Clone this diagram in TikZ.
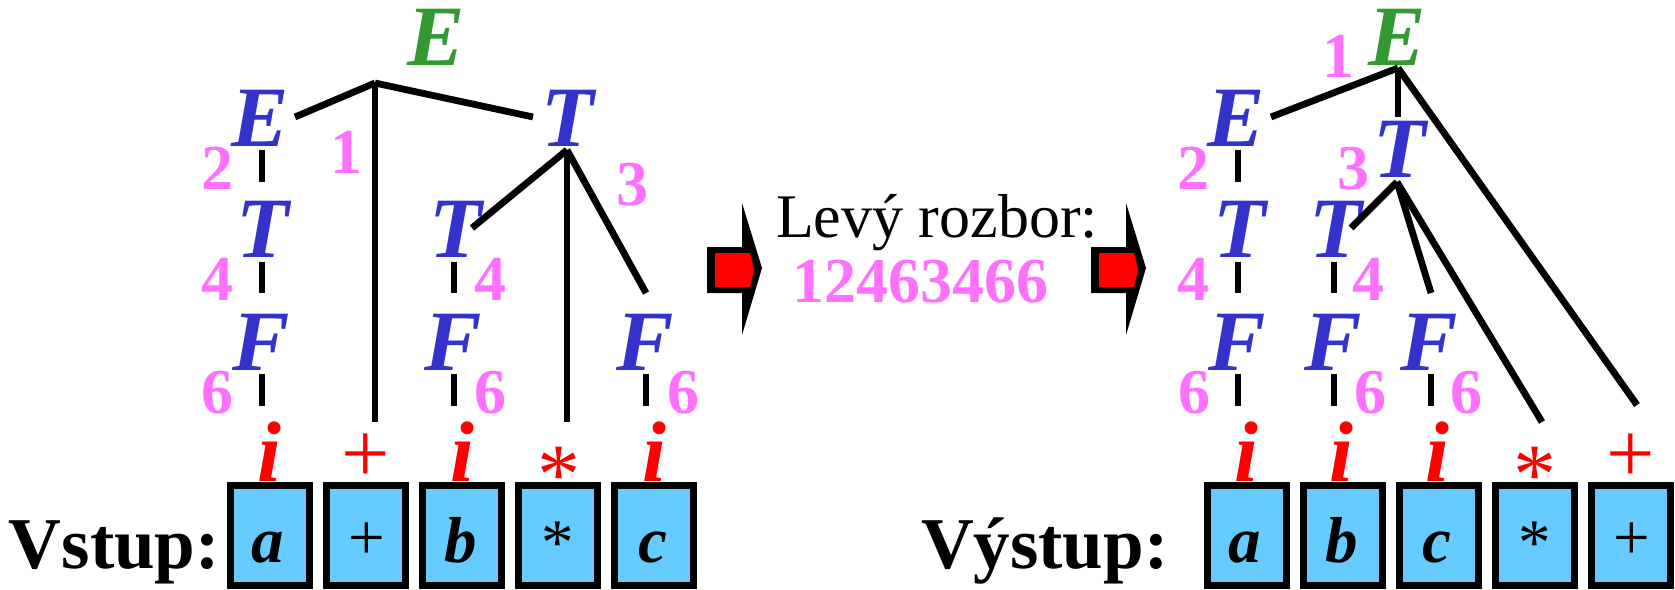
\documentclass[tikz,border=0pt]{standalone}
\usepackage{fontspec}
\setmainfont{Liberation Serif}
\definecolor{tblue}{HTML}{3333CC}
\definecolor{tgreen}{HTML}{339933}
\definecolor{tpink}{HTML}{FF70FF}
\definecolor{cellblue}{HTML}{66CCFF}
\tikzset{
  sym/.style={font=\fontsize{86}{86}\selectfont\bfseries\itshape, text=tblue, anchor=base},
  rootsym/.style={sym, text=tgreen},
  num/.style={font=\fontsize{64}{64}\selectfont\bfseries, text=tpink, anchor=base},
  term/.style={font=\fontsize{86}{86}\selectfont\bfseries\itshape, text=red, anchor=base},
  termop/.style={font=\fontsize{86}{86}\selectfont, text=red, anchor=base},
  cell/.style={draw=black, line width=7pt, fill=cellblue, minimum width=79pt, minimum height=100pt},
  celltxt/.style={font=\fontsize{65}{65}\selectfont\bfseries\itshape, anchor=base},
  cellop/.style={font=\fontsize{65}{65}\selectfont, anchor=base},
  branch/.style={line width=6.8pt},
  biglabel/.style={font=\fontsize{73}{73}\selectfont\bfseries, anchor=base west},
  pics/blockarrow/.style={code={
    \fill[black] (0,0) -- (35,0) -- (35,-44) -- (55,21) -- (35,88) -- (35,46) -- (0,46) -- cycle;
    \fill[red] (8,6) -- (43,6) -- (47,23) -- (43,40) -- (8,40) -- cycle;
  }}
}
\begin{document}
\begin{tikzpicture}[x=1pt,y=-1pt, every node/.style={inner sep=0pt, outer sep=0pt}]
\useasboundingbox (0,0) rectangle (1675,589);

% ---------- LEFT: input ----------
\node[biglabel] (vstup) at (9,568) {Vstup:};
\foreach \n/\x in {la/270, lb/366, lc/462, ld/558, le/654}
  \node[cell] (\n) at (\x,535.5) {};
\node[celltxt] (lat) at (268,562) {a};
\node[cellop]  (lbt) at (367,559) {+};
\node[celltxt] (lct) at (461,562) {b};
\node[cellop]  (ldt) at (558,564) {*};
\node[celltxt] (let) at (653,562) {c};

% terminals
\node[term]   (Li1)   at (269,481) {i};
\node[termop] (Lplus) at (366,482) {+};
\node[term]   (Li2)   at (462,481) {i};
\node[termop] (Lstar) at (559,503) {*};
\node[term]   (Li3)   at (654,481) {i};

% nonterminals
\node[rootsym] (LE0) at (436,65) {E};
\node[sym] (LE1) at (260,146) {E};
\node[sym] (LT1) at (568,146) {T};
\node[sym] (LT2) at (263,257) {T};
\node[sym] (LT3) at (456,257) {T};
\node[sym] (LF1) at (261,370) {F};
\node[sym] (LF2) at (453,370) {F};
\node[sym] (LF3) at (645,370) {F};

% rule numbers
\node[num] (Ln1) at (346,173) {1};
\node[num] (Ln2) at (217,189) {2};
\node[num] (Ln3) at (632,205) {3};
\node[num] (Ln4a) at (217,300) {4};
\node[num] (Ln4b) at (490,300) {4};
\node[num] (Ln6a) at (217,413) {6};
\node[num] (Ln6b) at (490,413) {6};
\node[num] (Ln6c) at (683,413) {6};

% branch coordinates
\coordinate (J1) at (375,83);
\coordinate (J1a) at (295,117);
\coordinate (J1b) at (533,117);
\coordinate (J1c) at (375,422);
\coordinate (J2) at (567,150);
\coordinate (J2a) at (472,228);
\coordinate (J2b) at (567,422);
\coordinate (J2c) at (646,293);
\draw[branch] (J1) -- (J1a);
\draw[branch] (J1) -- (J1b);
\draw[branch] (J1) -- (J1c);
\draw[branch] (J2) -- (J2a);
\draw[branch] (J2) -- (J2b);
\draw[branch] (J2) -- (J2c);
\foreach \x/\a/\b in {262/150/182, 262/262/293, 262/374/406, 454/262/293, 454/374/406, 646/374/406}
  \draw[branch] (\x,\a) -- (\x,\b);

% ---------- MIDDLE ----------
\pic (arrA) at (707,247) {blockarrow};
\node[font=\fontsize{62}{62}\selectfont, anchor=base west] (levy) at (776,237) {Levý rozbor:};
\node[num, anchor=base west] (seq) at (792,302) {12463466};
\pic (arrB) at (1091,247) {blockarrow};

% ---------- RIGHT: output ----------
\node[biglabel] (vystup) at (921,568) {Výstup:};
\foreach \n/\x in {ra/1246.5, rb/1342.5, rc/1438.5, rd/1534.5, re/1630.5}
  \node[cell] (\n) at (\x,535.5) {};
\node[celltxt] (rat) at (1245,562) {a};
\node[celltxt] (rbt) at (1342,562) {b};
\node[celltxt] (rct) at (1437,562) {c};
\node[cellop]  (rdt) at (1534.5,564) {*};
\node[cellop]  (ret) at (1631.5,559) {+};

\node[term]   (Ri1)   at (1246,481) {i};
\node[term]   (Ri2)   at (1341,481) {i};
\node[term]   (Ri3)   at (1437,481) {i};
\node[termop] (Rstar) at (1535,503) {*};
\node[termop] (Rplus) at (1631,482) {+};

\node[rootsym] (RE0) at (1397,65) {E};
\node[sym] (RE1) at (1236,146) {E};
\node[sym] (RT1) at (1400,177) {T};
\node[sym] (RT2) at (1240,257) {T};
\node[sym] (RT3) at (1336,257) {T};
\node[sym] (RF1) at (1237,370) {F};
\node[sym] (RF2) at (1333,370) {F};
\node[sym] (RF3) at (1429,370) {F};

\node[num] (Rn1) at (1338,77) {1};
\node[num] (Rn2) at (1193,189) {2};
\node[num] (Rn3) at (1353,189) {3};
\node[num] (Rn4a) at (1193,300) {4};
\node[num] (Rn4b) at (1368,300) {4};
\node[num] (Rn6a) at (1194,413) {6};
\node[num] (Rn6b) at (1370,413) {6};
\node[num] (Rn6c) at (1466,413) {6};

\coordinate (J3) at (1398,68);
\coordinate (J3a) at (1271,117);
\coordinate (J3b) at (1398,117);
\coordinate (J3c) at (1637,405);
\coordinate (J4) at (1397,182);
\coordinate (J4a) at (1351,228);
\coordinate (J4b) at (1431,293);
\coordinate (J4c) at (1542,422);
\draw[branch] (J3) -- (J3a);
\draw[branch] (J3) -- (J3b);
\draw[branch] (J3) -- (J3c);
\draw[branch] (J4) -- (J4a);
\draw[branch] (J4) -- (J4b);
\draw[branch] (J4) -- (J4c);
\foreach \x/\a/\b in {1238/150/182, 1238/262/293, 1238/374/406, 1334/262/293, 1334/374/406, 1431/374/406}
  \draw[branch] (\x,\a) -- (\x,\b);
\end{tikzpicture}
\end{document}
